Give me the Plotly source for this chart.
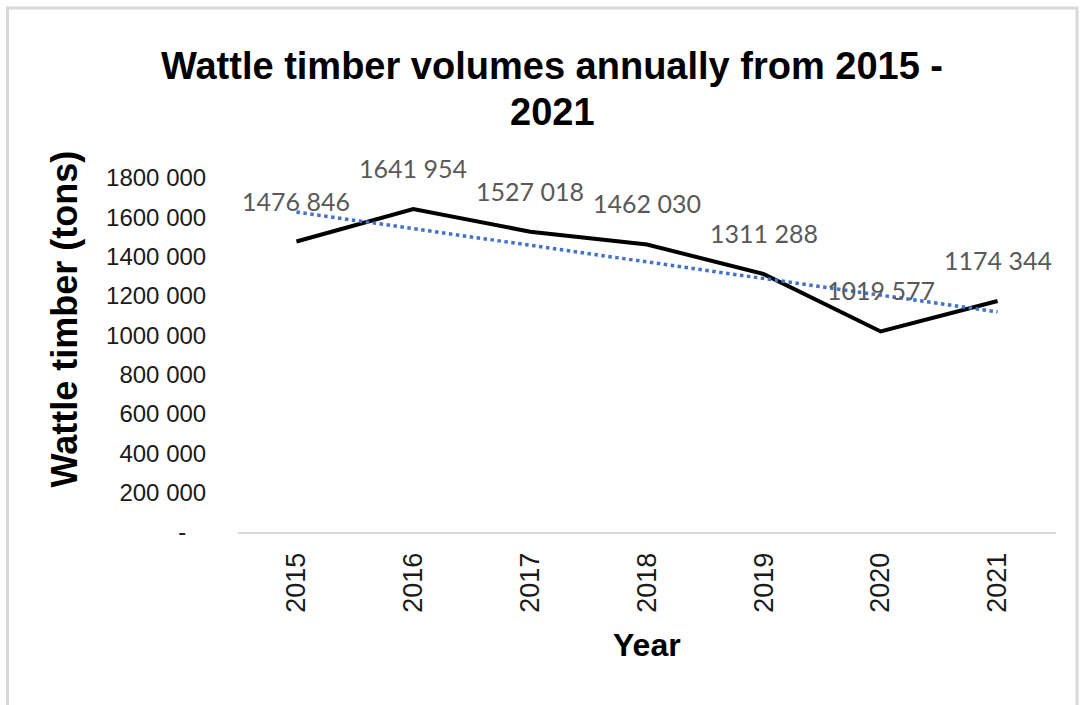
import numpy as np
import plotly.graph_objects as go

# Annual wattle timber volumes (tons)
years = ["2015", "2016", "2017", "2018", "2019", "2020", "2021"]
volumes = [1476846, 1641954, 1527018, 1462030, 1311288, 1019577, 1174344]

# Y axis ticks and their labels
y_ticks = [0, 200000, 400000, 600000, 800000, 1000000, 1200000, 1400000, 1600000, 1800000]
y_tick_labels = ["-\u00a0\u00a0\u00a0", "200 000", "400 000", "600 000", "800 000",
                 "1000 000", "1200 000", "1400 000", "1600 000", "1800 000"]


def fmt(v):
    """Thousands group split off with a space, e.g. 1476 846."""
    return f"{v // 1000} {v % 1000:03d}"


# Linear trend fitted over the year index
idx = np.arange(len(volumes))
slope, intercept = np.polyfit(idx, volumes, 1)
trend_x = [years[0], years[-1]]
trend_y = [intercept, intercept + slope * idx[-1]]

fig = go.Figure()

fig.add_trace(go.Scatter(
    x=years, y=volumes, mode="lines",
    line=dict(color="#000000", width=4),
    showlegend=False, hoverinfo="skip",
))

fig.add_trace(go.Scatter(
    x=trend_x, y=trend_y, mode="lines",
    line=dict(color="#4472C4", width=3.5, dash="dot"),
    showlegend=False, hoverinfo="skip",
))

# Value labels above each point (category index as x position)
for i, v in enumerate(volumes):
    fig.add_annotation(
        x=i, y=v, text=fmt(v), showarrow=False,
        xanchor="center", yanchor="middle", yshift=41,
        font=dict(family="Lato, Noto Sans, sans-serif", size=25, color="#595959"),
    )

axis_font = dict(family="Liberation Sans, Arial, sans-serif", size=24, color="#1a1a1a")
x_tick_font = dict(family="Liberation Sans, Arial, sans-serif", size=27, color="#1a1a1a")
bold_font = "Liberation Sans, Arial, sans-serif"

# Chart title, two lines
fig.add_annotation(
    xref="paper", yref="paper", x=0.3839, y=1.3164,
    text="<b>Wattle timber volumes annually from 2015 -</b>", showarrow=False,
    xanchor="center", yanchor="middle",
    font=dict(family=bold_font, size=38, color="#000000"),
)
fig.add_annotation(
    xref="paper", yref="paper", x=0.3839, y=1.1864,
    text="<b>2021</b>", showarrow=False,
    xanchor="center", yanchor="middle",
    font=dict(family=bold_font, size=38, color="#000000"),
)

fig.add_annotation(
    xref="paper", yref="paper", x=-0.212, y=0.602,
    text="<b>Wattle timber (tons)</b>", textangle=-90, showarrow=False,
    xanchor="center", yanchor="middle",
    font=dict(family=bold_font, size=36, color="#000000"),
)

fig.add_annotation(
    xref="paper", yref="paper", x=0.4995, y=-0.319,
    text="<b>Year</b>", showarrow=False,
    xanchor="center", yanchor="middle",
    font=dict(family=bold_font, size=32, color="#000000"),
)

# Outer frame of the chart area
fig.add_shape(
    type="rect", xref="paper", yref="paper",
    x0=-0.2818, x1=1.0257, y0=-0.55, y1=1.480,
    line=dict(color="#d9d9d9", width=3), fillcolor="rgba(0,0,0,0)",
    layer="below",
)

fig.update_layout(
    width=1080, height=705,
    margin=dict(l=238, r=24, t=178, b=173),
    paper_bgcolor="#ffffff", plot_bgcolor="#ffffff",
    xaxis=dict(
        type="category", range=[-0.5, 6.5],
        showgrid=False, zeroline=False,
        showline=True, linecolor="#d9d9d9", linewidth=2,
        ticks="outside", ticklen=8, tickcolor="rgba(0,0,0,0)",
        tickangle=-90, tickfont=x_tick_font,
    ),
    yaxis=dict(
        range=[0, 1800000],
        tickvals=y_ticks, ticktext=y_tick_labels,
        showgrid=False, zeroline=False, showline=False,
        ticks="outside", ticklen=26, tickcolor="rgba(0,0,0,0)",
        tickfont=axis_font,
    ),
)

fig.write_html("out.html")
